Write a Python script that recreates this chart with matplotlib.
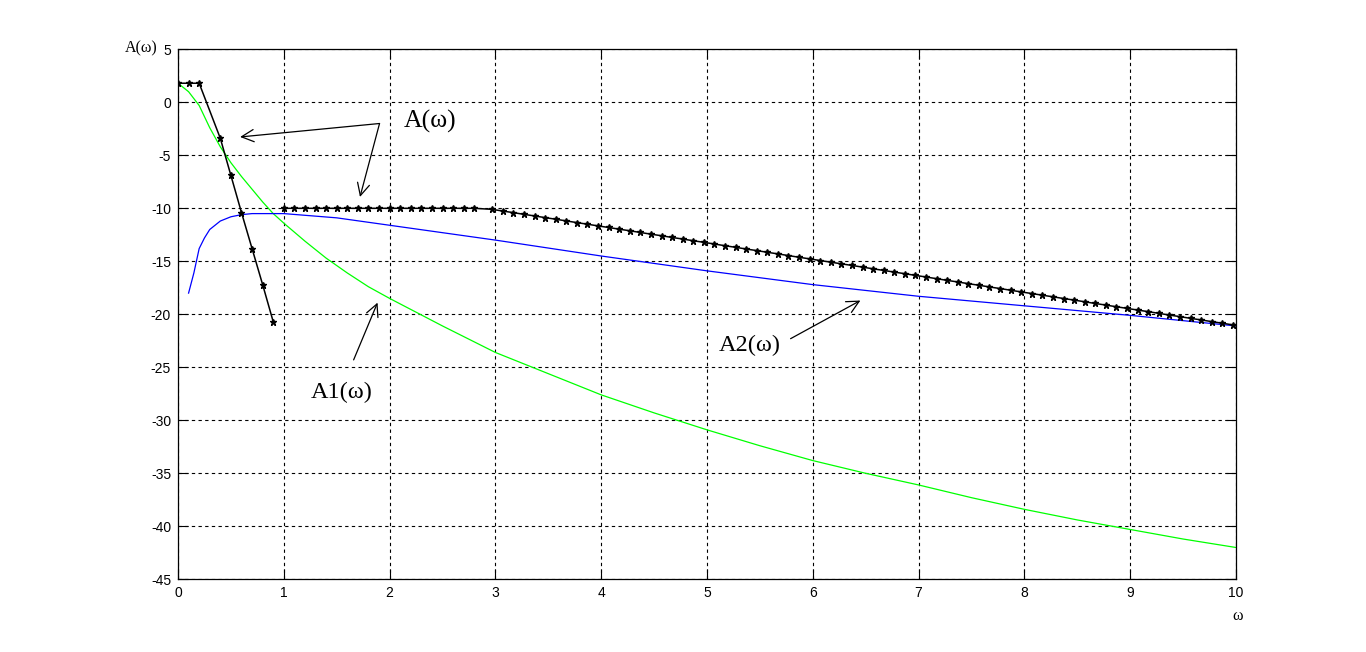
import matplotlib
matplotlib.use("Agg")
import matplotlib.pyplot as plt

# A(w) (black, with markers) - low-frequency part
w_a_low = [0, 0.1, 0.2, 0.4, 0.5, 0.6, 0.7, 0.8, 0.9]
a_low = [1.8, 1.8, 1.8, -3.4, -6.9, -10.4, -13.8, -17.2, -20.7]

# A(w) - high-frequency part
w_a_high = [1.0, 1.1, 1.2, 1.3, 1.4, 1.5, 1.6, 1.7, 1.8, 1.9,
            2.0, 2.1, 2.2, 2.3, 2.4, 2.5, 2.6, 2.7, 2.8,
            2.97, 3.07, 3.17, 3.27, 3.37, 3.47, 3.57, 3.67, 3.77, 3.87,
            3.97, 4.07, 4.17, 4.27, 4.37, 4.47, 4.57, 4.67, 4.77, 4.87,
            4.97, 5.07, 5.17, 5.27, 5.37, 5.47, 5.57, 5.67, 5.77, 5.87,
            5.97, 6.07, 6.17, 6.27, 6.37, 6.47, 6.57, 6.67, 6.77, 6.87,
            6.97, 7.07, 7.17, 7.27, 7.37, 7.47, 7.57, 7.67, 7.77, 7.87,
            7.97, 8.07, 8.17, 8.27, 8.37, 8.47, 8.57, 8.67, 8.77, 8.87,
            8.97, 9.07, 9.17, 9.27, 9.37, 9.47, 9.57, 9.67, 9.77, 9.87,
            9.97]
a_high = [-10, -10, -10, -10, -10, -10, -10, -10, -10, -10,
          -10, -10, -10, -10, -10, -10, -10, -10, -10,
          -10.10, -10.26, -10.41, -10.57, -10.72, -10.88, -11.03, -11.19, -11.35, -11.50,
          -11.66, -11.81, -11.97, -12.12, -12.28, -12.44, -12.59, -12.75, -12.90, -13.06,
          -13.21, -13.37, -13.53, -13.68, -13.84, -13.99, -14.15, -14.30, -14.46, -14.62,
          -14.77, -14.93, -15.08, -15.24, -15.39, -15.55, -15.71, -15.86, -16.02, -16.17,
          -16.33, -16.48, -16.64, -16.80, -16.95, -17.11, -17.26, -17.42, -17.57, -17.73,
          -17.89, -18.04, -18.20, -18.35, -18.51, -18.66, -18.82, -18.98, -19.13, -19.29,
          -19.44, -19.60, -19.75, -19.91, -20.07, -20.22, -20.38, -20.53, -20.69, -20.84,
          -21.00]

# A1(w) green
w1 = [0, 0.1, 0.2, 0.3, 0.4, 0.5, 0.6, 0.7, 0.8, 0.9, 1.0, 1.2, 1.4, 1.6, 1.8,
      2.0, 2.5, 3.0, 3.5, 4.0, 4.5, 5.0, 5.5, 6.0, 6.5, 7.0, 7.5, 8.0, 8.5, 9.0, 9.5, 10]
a1 = [1.8, 1.0, -0.3, -2.4, -4.2, -5.7, -7.0, -8.2, -9.4, -10.5, -11.4, -13.1, -14.7, -16.1, -17.4,
      -18.5, -21.1, -23.6, -25.6, -27.6, -29.3, -30.9, -32.4, -33.8, -35.0, -36.1, -37.3, -38.4, -39.4, -40.3, -41.2, -42.0]

# A2(w) blue
w2 = [0.1, 0.15, 0.2, 0.25, 0.3, 0.4, 0.5, 0.6, 0.7, 0.8, 1.0, 1.5, 2.0, 2.5, 3.0,
      4.0, 5.0, 6.0, 7.0, 8.0, 9.0, 10]
a2 = [-18.0, -16.1, -13.8, -12.8, -12.0, -11.2, -10.8, -10.6, -10.5, -10.5, -10.5, -10.9, -11.6, -12.3, -13.0,
      -14.5, -15.9, -17.2, -18.3, -19.2, -20.1, -21.1]

xticks = list(range(0, 11))
yticks = list(range(5, -50, -5))

plt.rcParams['font.family'] = ['Liberation Sans', 'DejaVu Sans']
plt.rcParams['axes.unicode_minus'] = False

fig = plt.figure(figsize=(13.66, 6.52), dpi=100)
ax = fig.add_axes([178 / 1366, 1 - 579.3 / 652, (1236 - 178) / 1366, (579.3 - 49.3) / 652])

ax.plot(w1, a1, color=(0, 1, 0), lw=0.9)
ax.plot(w2, a2, color=(0, 0, 1), lw=0.9)
ax.plot(w_a_low, a_low, color='black', lw=1.1, marker='*', ms=5, mew=1)
ax.plot(w_a_high, a_high, color='black', lw=1.1, marker='*', ms=5, mew=1)

ax.set_xlim(0, 10)
ax.set_ylim(-45, 5)
ax.set_xticks(xticks)
ax.set_yticks(yticks)
ax.tick_params(direction='in', length=7, width=0.8, top=True, right=True,
               labelsize=10, pad=5)
ax.grid(True, color='black', linestyle=(0, (3, 3)), lw=0.8)
for s in ax.spines.values():
    s.set_linewidth(0.9)

serif = ['Liberation Serif', 'DejaVu Serif']
fig.text(158 / 1366, 1 - 48 / 652, "A(ω)", family=serif, fontsize=11.5, ha='right', va='center')
fig.text(1238 / 1366, 1 - 616 / 652, "ω", family=serif, fontsize=11.5, ha='center', va='center')

# annotations
ax.text(2.38, -1.8, "A(ω)", family=serif, fontsize=18.5, ha='center', va='center')
ax.annotate("", xy=(0.587, -3.27), xytext=(1.905, -2.0),
            arrowprops=dict(arrowstyle='->', lw=0.9, color='black', mutation_scale=22, shrinkA=0, shrinkB=0))
ax.annotate("", xy=(1.72, -8.93), xytext=(1.905, -2.0),
            arrowprops=dict(arrowstyle='->', lw=0.9, color='black', mutation_scale=22, shrinkA=0, shrinkB=0))

ax.text(1.55, -27.4, "A1(ω)", family=serif, fontsize=17.5, ha='center', va='center')
ax.annotate("", xy=(1.886, -18.9), xytext=(1.66, -24.3),
            arrowprops=dict(arrowstyle='->', lw=0.9, color='black', mutation_scale=22, shrinkA=0, shrinkB=0))

ax.text(5.40, -22.9, "A2(ω)", family=serif, fontsize=17.5, ha='center', va='center')
ax.annotate("", xy=(6.45, -18.7), xytext=(5.79, -22.3),
            arrowprops=dict(arrowstyle='->', lw=0.9, color='black', mutation_scale=22, shrinkA=0, shrinkB=0))

fig.savefig("out.png", dpi=100)
